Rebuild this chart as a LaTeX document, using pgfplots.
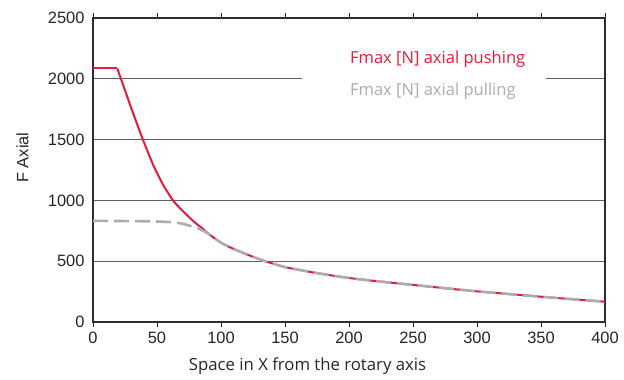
\documentclass[border=0pt]{standalone}
\usepackage{fontspec}
\setmainfont{Open Sans}
\newfontfamily\arial{Liberation Sans}
\usepackage{pgfplots}
\pgfplotsset{compat=1.18}
\definecolor{pushred}{RGB}{228,28,58}
\definecolor{pullgray}{RGB}{172,172,172}
\definecolor{framec}{RGB}{45,45,45}
\definecolor{gridc}{RGB}{95,95,95}
\begin{document}
\begin{tikzpicture}
\useasboundingbox (-93bp,-58bp) rectangle (531bp,322bp);
\begin{axis}[
  at={(0,0)}, anchor=south west,
  scale only axis, width=512bp, height=304bp,
  xmin=0, xmax=400, ymin=0, ymax=2500,
  xtick={0,50,...,400}, ytick={0,500,...,2500},
  ymajorgrids,
  grid style={gridc, line width=0.8bp},
  axis line style={framec, line width=1.3bp},
  tick align=outside,
  major tick length=5bp,
  xtick style={framec, line width=0.8bp},
  ytick style={draw=none},
  /pgf/number format/assume math mode=true,
  /pgf/number format/1000 sep={},
  ticklabel style={font=\arial\fontsize{16.5}{18}\selectfont, text=black!85},
  xticklabel style={yshift=-1bp},
  xlabel={Space in X from the rotary axis},
  xlabel style={at={(axis description cs:0.419,0)}, anchor=center, yshift=-44bp, font=\fontsize{16.8}{18}\selectfont, text=black!85},
  ylabel={F Axial},
  ylabel style={at={(axis description cs:-0.1377,0.541)}, anchor=center, font=\arial\fontsize{16.5}{18}\selectfont, text=black!85},
  legend style={at={(axis description cs:0.408,0.816)}, anchor=west, draw=none, fill=white,
    font=\fontsize{16.6}{18}\selectfont, inner xsep=0pt, inner ysep=2bp, row sep=14bp},
  legend cell align=left,
  legend image code/.code={\path[draw=none] (0bp,0bp) -- (46bp,0bp);},
]
\addplot[pushred, line width=2bp, forget plot] coordinates {(0,2085) (19,2085)};
\addplot[pushred, line width=2bp, line join=round, smooth, tension=0.4] coordinates {
(19,2085) (23.4,1953) (31.25,1720) (39,1500) (46.9,1295) (54.7,1130) (62.5,1000)
(68,935) (73,883) (80,815) (86,765) (90,728) (100,652) (110,600)
(120,557) (133,505) (150,452) (175,402) (200,362) (225,332) (250,305)
(275,278) (300,252) (325,230) (350,208) (375,187) (400,167)};
\addlegendentry{\textcolor{pushred}{Fmax [N] axial pushing}\hspace*{19bp}}
\addplot[pullgray, line width=2.6bp, dash pattern=on 15bp off 6bp, smooth, tension=0.4] coordinates {
(0,832) (45,828) (62,820) (70,808) (76,790) (82,770) (88,740) (90,728) (100,652) (110,600)
(120,557) (133,505) (150,452) (175,402) (200,362) (225,332) (250,305)
(275,278) (300,252) (325,230) (350,208) (375,187) (400,167)};
\addlegendentry{\textcolor{pullgray}{Fmax [N] axial pulling}\hspace*{19bp}}
\end{axis}
\end{tikzpicture}
\end{document}
